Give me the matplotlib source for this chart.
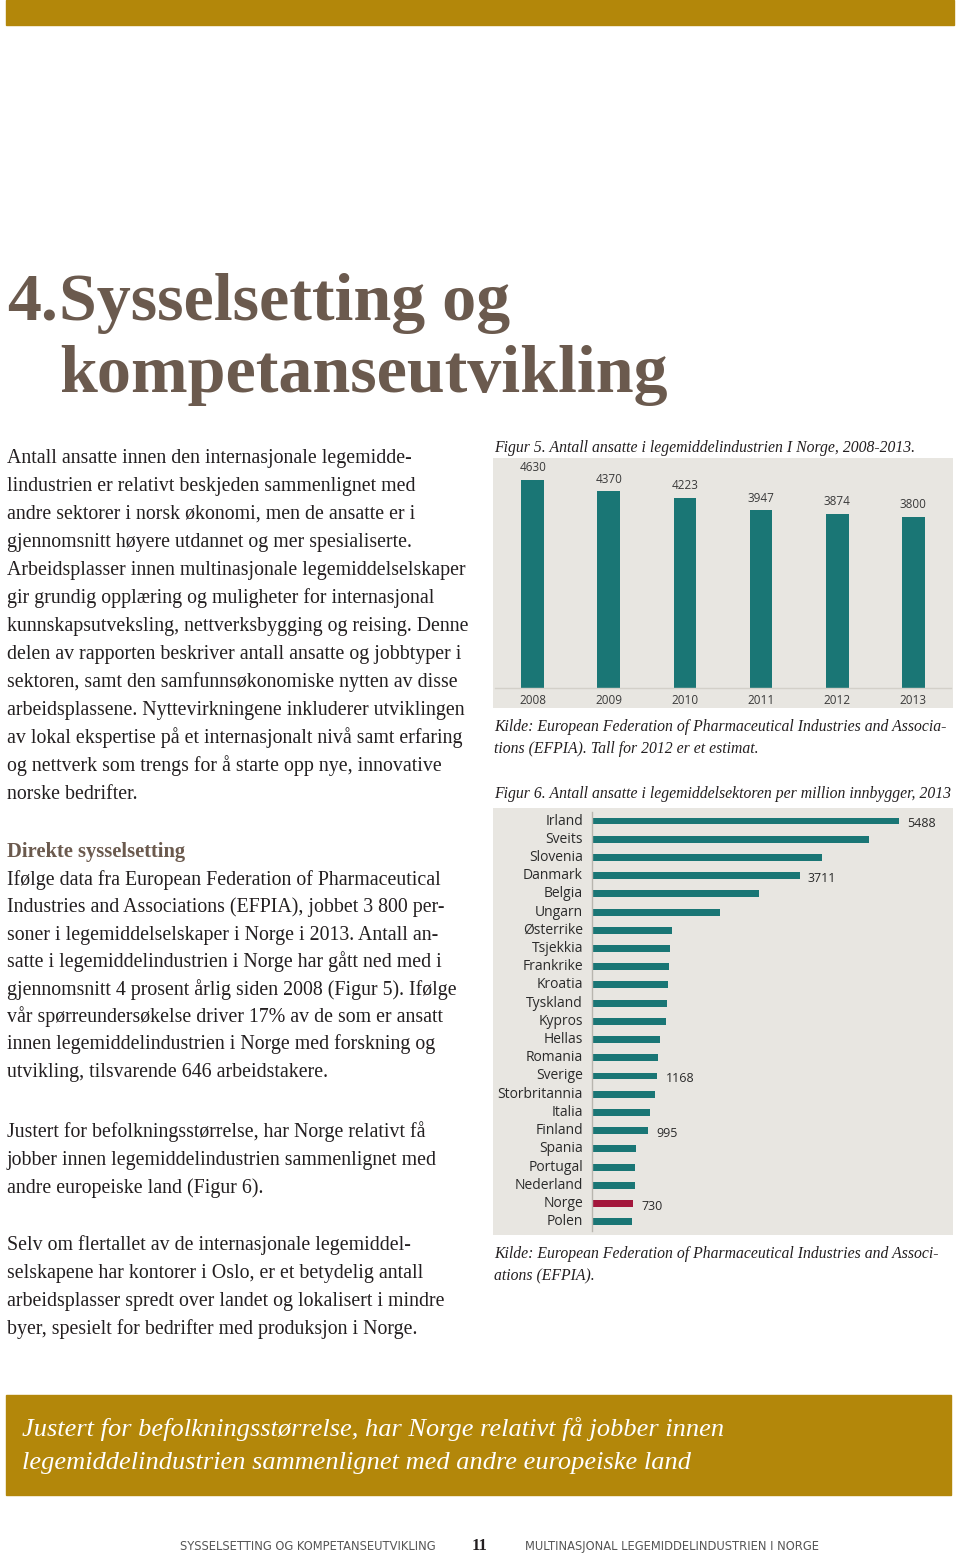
import matplotlib
matplotlib.use('Agg')
import matplotlib.pyplot as plt
from matplotlib.patches import Rectangle

# figur 5 - ansatte i legemiddelindustrien
years = ['2008', '2009', '2010', '2011', '2012', '2013']
employees = [4630, 4370, 4223, 3947, 3874, 3800]

# figur 6 - ansatte per million innbyggere, 2013
countries = ['Irland', 'Sveits', 'Slovenia', 'Danmark', 'Belgia', 'Ungarn',
             'Østerrike', 'Tsjekkia', 'Frankrike', 'Kroatia', 'Tyskland',
             'Kypros', 'Hellas', 'Romania', 'Sverige', 'Storbritannia',
             'Italia', 'Finland', 'Spania', 'Portugal', 'Nederland',
             'Norge', 'Polen']
per_million = [5488, 4950, 4120, 3711, 2985, 2295, 1425, 1400, 1385, 1365,
               1340, 1322, 1215, 1180, 1168, 1120, 1030, 995, 780, 762, 768,
               730, 714]
labelled = ['Irland', 'Danmark', 'Sverige', 'Finland', 'Norge']

para1 = ["Antall ansatte innen den internasjonale legemidde-",
         "lindustrien er relativt beskjeden sammenlignet med",
         "andre sektorer i norsk økonomi, men de ansatte er i",
         "gjennomsnitt høyere utdannet og mer spesialiserte.",
         "Arbeidsplasser innen multinasjonale legemiddelselskaper",
         "gir grundig opplæring og muligheter for internasjonal",
         "kunnskapsutveksling, nettverksbygging og reising. Denne",
         "delen av rapporten beskriver antall ansatte og jobbtyper i",
         "sektoren, samt den samfunnsøkonomiske nytten av disse",
         "arbeidsplassene. Nyttevirkningene inkluderer utviklingen",
         "av lokal ekspertise på et internasjonalt nivå samt erfaring",
         "og nettverk som trengs for å starte opp nye, innovative",
         "norske bedrifter."]
para2 = ["Ifølge data fra European Federation of Pharmaceutical",
         "Industries and Associations (EFPIA), jobbet 3 800 per-",
         "soner i legemiddelselskaper i Norge i 2013. Antall an-",
         "satte i legemiddelindustrien i Norge har gått ned med i",
         "gjennomsnitt 4 prosent årlig siden 2008 (Figur 5). Ifølge",
         "vår spørreundersøkelse driver 17% av de som er ansatt",
         "innen legemiddelindustrien i Norge med forskning og",
         "utvikling, tilsvarende 646 arbeidstakere."]
para3 = ["Justert for befolkningsstørrelse, har Norge relativt få",
         "jobber innen legemiddelindustrien sammenlignet med",
         "andre europeiske land (Figur 6)."]
para4 = ["Selv om flertallet av de internasjonale legemiddel-",
         "selskapene har kontorer i Oslo, er et betydelig antall",
         "arbeidsplasser spredt over landet og lokalisert i mindre",
         "byer, spesielt for bedrifter med produksjon i Norge."]

W, H = 960, 1554
GOLD = '#b3870a'
BROWN = '#6b5a4e'
TEAL = '#1a7675'
RED = '#a3173c'
PANEL = '#e8e6e1'
INK = '#231f20'
SERIF = 'Liberation Serif'
SANS = 'Open Sans'

fig = plt.figure(figsize=(W / 100, H / 100), dpi=100)


def px(x, y):
    return x / W, 1 - y / H


def box(x0, y0, x1, y1):
    # axes rect from page pixels (top-left origin)
    return [x0 / W, 1 - y1 / H, (x1 - x0) / W, (y1 - y0) / H]


def lines(x, y0, rows, step=28, **kw):
    for i, s in enumerate(rows):
        fig.text(*px(x, y0 + i * step), s, va='baseline', **kw)


# top band
fig.patches.append(Rectangle(px(6, 25), 948 / W, 25 / H, color=GOLD,
                             transform=fig.transFigure))

# title
title = dict(fontsize=49, family=SERIF, weight='bold', color=BROWN,
             va='baseline')
fig.text(*px(7, 320), '4.', **title)
fig.text(*px(59, 320), 'Sysselsetting og', **title)
fig.text(*px(59, 392), 'kompetanseutvikling', **title)

body = dict(fontsize=14.3, family=SERIF, color=INK)
lines(7, 463, para1, **body)
fig.text(*px(7, 857), 'Direkte sysselsetting', fontsize=14.8, family=SERIF,
         weight='bold', color=BROWN, va='baseline')
lines(7, 885, para2, step=27.4, **body)
lines(7, 1137, para3, **body)
lines(7, 1250, para4, **body)

# captions
cap = dict(fontsize=11.3, family=SERIF, style='italic', color=INK)
fig.text(*px(494, 452), 'Figur 5. Antall ansatte i legemiddelindustrien I Norge, 2008-2013.', va='baseline', **cap)
lines(494, 731, ['Kilde: European Federation of Pharmaceutical Industries and Associa-',
                 'tions (EFPIA). Tall for 2012 er et estimat.'], step=22, **cap)
fig.text(*px(494, 798), 'Figur 6. Antall ansatte i legemiddelsektoren per million innbygger, 2013', va='baseline', **cap)
lines(494, 1258, ['Kilde: European Federation of Pharmaceutical Industries and Associ-',
                  'ations (EFPIA).'], step=22, **cap)

# figur 5
ax1 = fig.add_axes(box(493, 458, 953, 708))
x = range(len(years))
ax1.bar(x, employees, width=0.3, color=TEAL)
ax1.set_xlim(-0.522, 5.522)
ax1.set_ylim(-444, 5112)
ax1.axhline(0, xmin=0.005, xmax=0.995, color='#d3d0c9', lw=1)
for i, v in enumerate(employees):
    ax1.annotate(str(v), (i, v), xytext=(0, 4), textcoords='offset points',
                 ha='center', va='bottom', fontsize=8.5, family=SANS,
                 color='#3a3a3a')
    ax1.annotate(years[i], (i, 0), xytext=(0, -9), textcoords='offset points',
                 ha='center', va='center', fontsize=8.5, family=SANS,
                 color='#3a3a3a')
ax1.axis('off')
ax1.add_patch(Rectangle((0, 0), 1, 1, transform=ax1.transAxes,
                        color=PANEL, zorder=-1))

# figur 6
ax2 = fig.add_axes(box(493, 808, 953, 1235))
y = range(len(countries))
colors = [RED if c == 'Norge' else TEAL for c in countries]
ax2.barh(y, per_million, height=0.38, color=colors)
ax2.set_xlim(-1770, 6453)
ax2.set_ylim(22.73, -0.714)
ax2.axvline(0, ymin=0.01, ymax=0.99, color='#b8b5ae', lw=1)
for i, c in enumerate(countries):
    ax2.annotate(c, (0, i), xytext=(-6.5, 0), textcoords='offset points',
                 ha='right', va='center', fontsize=10, family=SANS,
                 color='#2a2a2a')
    if c in labelled:
        ax2.annotate(str(per_million[i]), (per_million[i], i), xytext=(6, -2),
                     textcoords='offset points', ha='left', va='center',
                     fontsize=9, family=SANS, color='#2a2a2a')
ax2.axis('off')
ax2.add_patch(Rectangle((0, 0), 1, 1, transform=ax2.transAxes,
                        color=PANEL, zorder=-1))

# banner
fig.patches.append(Rectangle(px(6, 1495), 945 / W, 100 / H, color=GOLD,
                             transform=fig.transFigure))
lines(22, 1436, ['Justert for befolkningsstørrelse, har Norge relativt få jobber innen',
                 'legemiddelindustrien sammenlignet med andre europeiske land'],
      step=33, fontsize=19, family=SERIF, style='italic', color='white')

# footer
foot = dict(fontsize=8.3, family='DejaVu Sans', color='#555555', va='baseline')
fig.text(*px(436, 1550), 'SYSSELSETTING OG KOMPETANSEUTVIKLING', ha='right', **foot)
fig.text(*px(480, 1550), '11', ha='center', fontsize=12, family=SERIF,
         weight='bold', color=INK, va='baseline')
fig.text(*px(525, 1550), 'MULTINASJONAL LEGEMIDDELINDUSTRIEN I NORGE', ha='left', **foot)

fig.savefig('out.png', dpi=100)
